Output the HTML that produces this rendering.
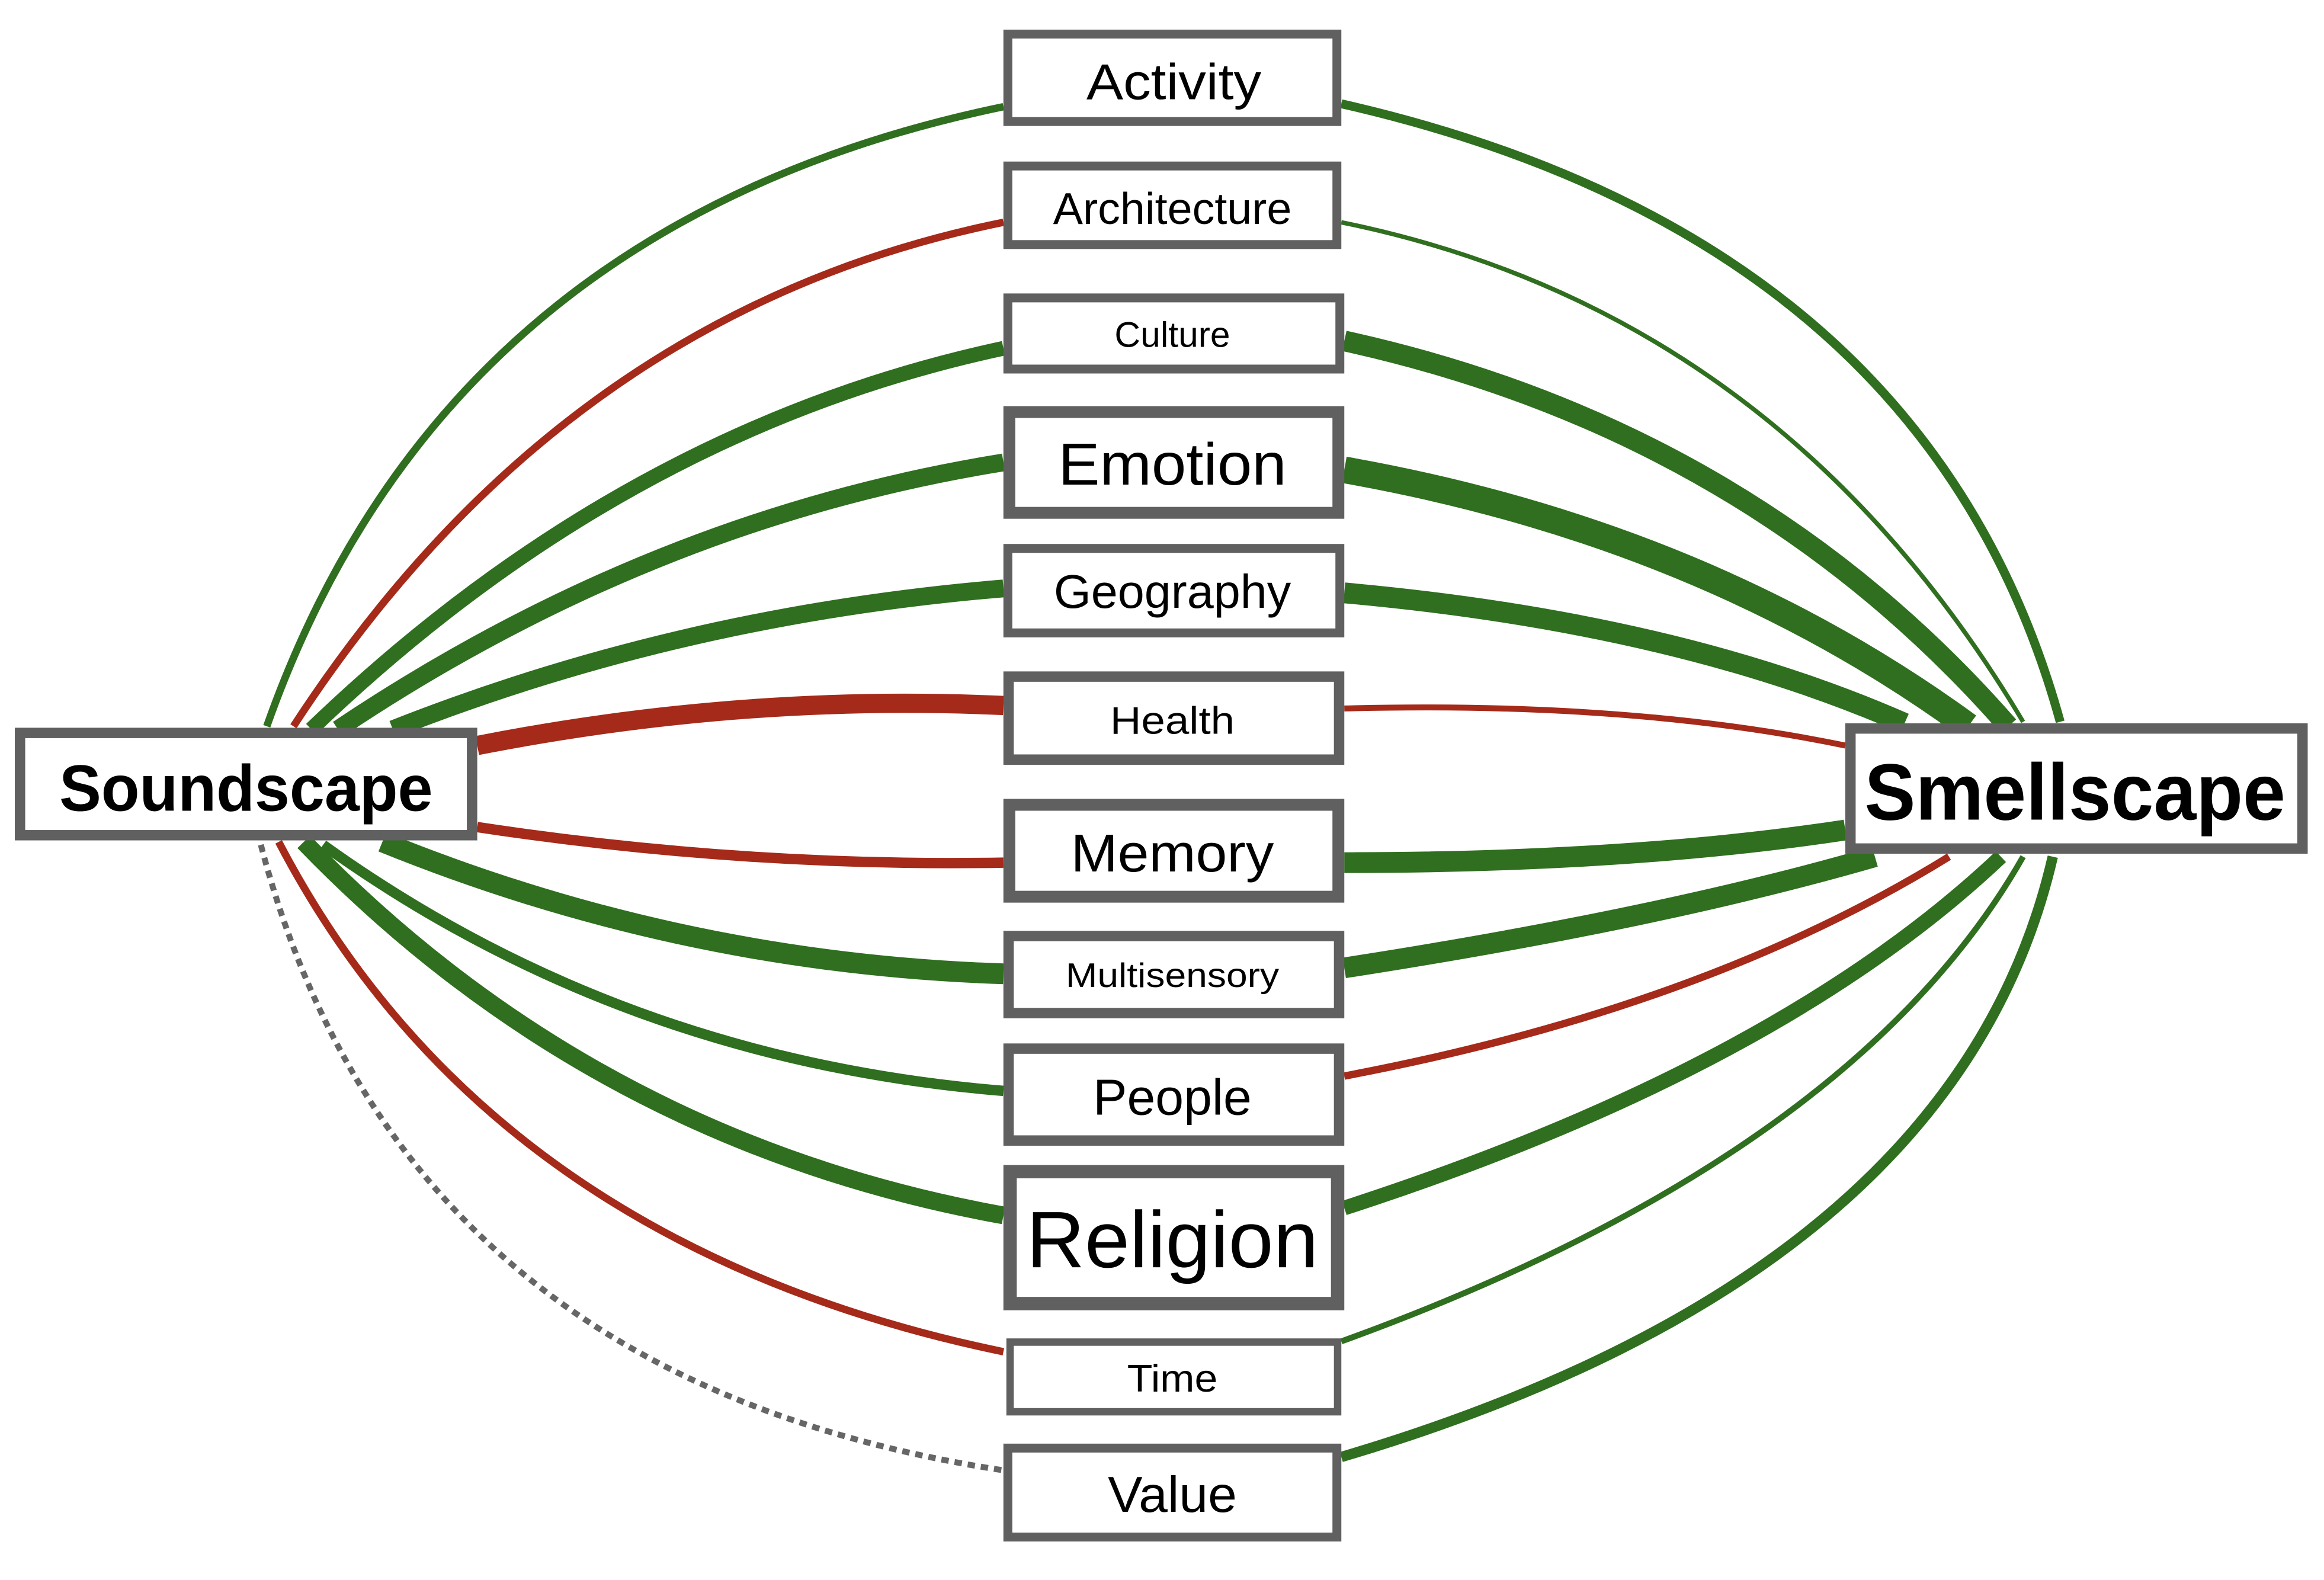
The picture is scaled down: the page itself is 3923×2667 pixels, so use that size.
<!DOCTYPE html>
<html><head><meta charset="utf-8"><style>
html,body{margin:0;padding:0;background:#fff;}
svg{display:block;}
text{font-family:"Liberation Sans",sans-serif;fill:#000;text-anchor:middle;}
</style></head><body>
<svg width="3923" height="2667" viewBox="0 0 1568 1066" preserveAspectRatio="none" xmlns="http://www.w3.org/2000/svg">
<g fill="none" stroke-linecap="butt">
<!-- left edges -->
<path d="M180,490 Q300,150 677,72" stroke="#2f6f1f" stroke-width="5"/>
<path d="M198,490 Q380,210 677,150" stroke="#a52a1a" stroke-width="5"/>
<path d="M210,492 Q420,290 677,235" stroke="#2f6f1f" stroke-width="10"/>
<path d="M228,492 Q440,350 677,312" stroke="#2f6f1f" stroke-width="12"/>
<path d="M265,492 Q460,415 677,397" stroke="#2f6f1f" stroke-width="12"/>
<path d="M322,503 Q500,468 677,476" stroke="#a52a1a" stroke-width="13"/>
<path d="M322,558 Q500,585 677,582" stroke="#a52a1a" stroke-width="7"/>
<path d="M258,568 Q460,650 677,657" stroke="#2f6f1f" stroke-width="14"/>
<path d="M218,570 Q420,715 677,736" stroke="#2f6f1f" stroke-width="7"/>
<path d="M205,568 Q400,770 677,820" stroke="#2f6f1f" stroke-width="12"/>
<path d="M188,568 Q330,840 677,912" stroke="#a52a1a" stroke-width="5"/>
<path d="M176,570 Q270,930 677,992" stroke="#666" stroke-width="4" stroke-dasharray="5,4"/>
<!-- right edges -->
<path d="M905,70 Q1300,160 1390,487" stroke="#2f6f1f" stroke-width="6"/>
<path d="M905,150 Q1200,210 1365,487" stroke="#2f6f1f" stroke-width="3"/>
<path d="M907,230 Q1180,290 1355,490" stroke="#2f6f1f" stroke-width="14"/>
<path d="M907,317 Q1150,360 1328,490" stroke="#2f6f1f" stroke-width="18"/>
<path d="M907,400 Q1130,420 1285,488" stroke="#2f6f1f" stroke-width="14"/>
<path d="M907,478 Q1100,473 1245,503" stroke="#a52a1a" stroke-width="4"/>
<path d="M907,582 Q1100,582 1245,560" stroke="#2f6f1f" stroke-width="14"/>
<path d="M907,653 Q1120,620 1265,578" stroke="#2f6f1f" stroke-width="14"/>
<path d="M907,726 Q1150,680 1315,578" stroke="#a52a1a" stroke-width="5"/>
<path d="M907,815 Q1200,720 1350,578" stroke="#2f6f1f" stroke-width="10"/>
<path d="M905,905 Q1250,780 1365,578" stroke="#2f6f1f" stroke-width="4"/>
<path d="M905,983 Q1320,860 1385,578" stroke="#2f6f1f" stroke-width="7"/>
</g>
<g fill="#fff" stroke="#606060">
<rect x="13.5" y="494.5" width="305" height="69" stroke-width="7"/>
<rect x="1248.5" y="491.5" width="305" height="81" stroke-width="7"/>
<rect x="680" y="23" width="222" height="59" stroke-width="6"/>
<rect x="680" y="112" width="222" height="53" stroke-width="6"/>
<rect x="680" y="201" width="224" height="48" stroke-width="6"/>
<rect x="681" y="278" width="222" height="68" stroke-width="8"/>
<rect x="680" y="370" width="224" height="57" stroke-width="6"/>
<rect x="680.5" y="456.5" width="223" height="56" stroke-width="7"/>
<rect x="681" y="543" width="222" height="62" stroke-width="8"/>
<rect x="680.5" y="631.5" width="223" height="52" stroke-width="7"/>
<rect x="680.5" y="707.5" width="223" height="62" stroke-width="7"/>
<rect x="681.5" y="790.5" width="221" height="89" stroke-width="9"/>
<rect x="681.5" y="905.5" width="221" height="47" stroke-width="5"/>
<rect x="680" y="977" width="222" height="60" stroke-width="6"/>
</g>
<text x="166" y="547" font-size="44" font-weight="bold" textLength="252" lengthAdjust="spacingAndGlyphs">Soundscape</text>
<text x="1400" y="553" font-size="54" font-weight="bold" textLength="284" lengthAdjust="spacingAndGlyphs">Smellscape</text>
<text x="792" y="67" font-size="34" textLength="118" lengthAdjust="spacingAndGlyphs">Activity</text>
<text x="791" y="151" font-size="30" textLength="161" lengthAdjust="spacingAndGlyphs">Architecture</text>
<text x="791" y="234" font-size="24" textLength="78" lengthAdjust="spacingAndGlyphs">Culture</text>
<text x="791" y="327" font-size="40" textLength="154" lengthAdjust="spacingAndGlyphs">Emotion</text>
<text x="791" y="410" font-size="32" textLength="160" lengthAdjust="spacingAndGlyphs">Geography</text>
<text x="791" y="495" font-size="26" textLength="84" lengthAdjust="spacingAndGlyphs">Health</text>
<text x="791" y="588" font-size="36" textLength="137" lengthAdjust="spacingAndGlyphs">Memory</text>
<text x="791" y="666" font-size="23" textLength="144" lengthAdjust="spacingAndGlyphs">Multisensory</text>
<text x="791" y="752" font-size="34" textLength="107" lengthAdjust="spacingAndGlyphs">People</text>
<text x="791" y="855" font-size="54" textLength="197" lengthAdjust="spacingAndGlyphs">Religion</text>
<text x="791" y="939" font-size="26" textLength="61" lengthAdjust="spacingAndGlyphs">Time</text>
<text x="791" y="1020" font-size="34" textLength="87" lengthAdjust="spacingAndGlyphs">Value</text>
</svg>
</body></html>
